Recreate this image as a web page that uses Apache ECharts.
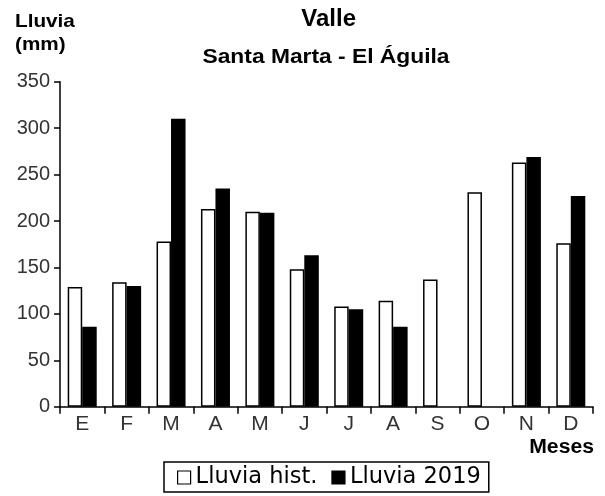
<!DOCTYPE html>
<html>
<head>
<meta charset="utf-8">
<script src="https://cdn.jsdelivr.net/npm/echarts@6/dist/echarts.min.js"></script>
<style>
html,body{margin:0;padding:0;background:#fff;}
#chart{width:605px;height:496px;}
</style>
</head>
<body>
<div id="chart"></div>
<script>
const months = ['E','F','M','A','M','J','J','A','S','O','N','D'];
const histValues = [129, 134, 178, 213, 210, 148, 108, 114, 137, 231, 263, 176];
const values2019 = [86, 130, 310, 235, 209, 163, 105, 86, null, null, 269, 227];
const yTicks = { min: 0, max: 350, interval: 50 };

const FONT = '"Liberation Sans", Arial, sans-serif';
const WIDE = '"DejaVu Sans", sans-serif';
const chart = echarts.init(document.getElementById('chart'), null, {renderer: 'canvas'});

chart.setOption({
  animation: false,
  backgroundColor: '#fff',
  grid: { left: 60, right: 12, top: 81.7, bottom: 89.3, containLabel: false },
  graphic: [
    { type: 'text', x: 328.7, y: 19, style: { text: 'Valle', x: 0, y: 0, textAlign: 'center', textVerticalAlign: 'middle', font: 'bold 24px ' + FONT, fill: '#000' } },
    { type: 'text', x: 326, y: 57, scaleX: 1.14, style: { text: 'Santa Marta - El Águila', x: 0, y: 0, textAlign: 'center', textVerticalAlign: 'middle', font: 'bold 20px ' + FONT, fill: '#000' } },
    { type: 'text', x: 15, y: 22, scaleX: 1.09, style: { text: 'Lluvia', x: 0, y: 0, textAlign: 'left', textVerticalAlign: 'middle', font: 'bold 19px ' + FONT, fill: '#000' } },
    { type: 'text', x: 15, y: 45, scaleX: 1.09, style: { text: '(mm)', x: 0, y: 0, textAlign: 'left', textVerticalAlign: 'middle', font: 'bold 19px ' + FONT, fill: '#000' } },
    { type: 'text', x: 594, y: 447, scaleX: 1.06, style: { text: 'Meses', x: 0, y: 0, textAlign: 'right', textVerticalAlign: 'middle', font: 'bold 20px ' + FONT, fill: '#000' } }
  ],
  legend: {
    left: 164, top: 462,
    padding: [4, 8, 3, 13],
    borderColor: '#000', borderWidth: 1.5,
    itemWidth: 13, itemHeight: 13, itemGap: 14,
    icon: 'rect',
    textStyle: { fontFamily: WIDE, fontSize: 22.5, color: '#000' },
    data: [
      { name: 'Lluvia hist.', itemStyle: { color: '#fff', borderColor: '#000', borderWidth: 1.2 } },
      { name: 'Lluvia 2019', itemStyle: { color: '#000', borderColor: '#000', borderWidth: 1.2 } }
    ]
  },
  xAxis: {
    type: 'category',
    data: months,
    boundaryGap: true,
    axisLine: { lineStyle: { color: '#000', width: 1.5 } },
    axisTick: { show: true, length: 7, lineStyle: { color: '#000', width: 1.5 } },
    axisLabel: { color: '#333', fontFamily: FONT, fontSize: 21, margin: 7 },
    splitLine: { show: false }
  },
  yAxis: {
    type: 'value',
    min: yTicks.min, max: yTicks.max, interval: yTicks.interval,
    axisLine: { show: true, lineStyle: { color: '#000', width: 1.5 } },
    axisTick: { show: true, length: 6, lineStyle: { color: '#000', width: 1.5 } },
    axisLabel: { color: '#333', fontFamily: FONT, fontSize: 20, margin: 10 },
    splitLine: { show: false }
  },
  series: [
    {
      name: 'Lluvia hist.', type: 'bar', data: histValues,
      barWidth: 14.5, barGap: '0%',
      itemStyle: { color: '#fff', borderColor: '#000', borderWidth: 1.5 }
    },
    {
      name: 'Lluvia 2019', type: 'bar', data: values2019,
      barWidth: 14.5, barGap: '0%',
      itemStyle: { color: '#000', borderColor: '#000', borderWidth: 1.5 }
    }
  ]
});
</script>
</body>
</html>
